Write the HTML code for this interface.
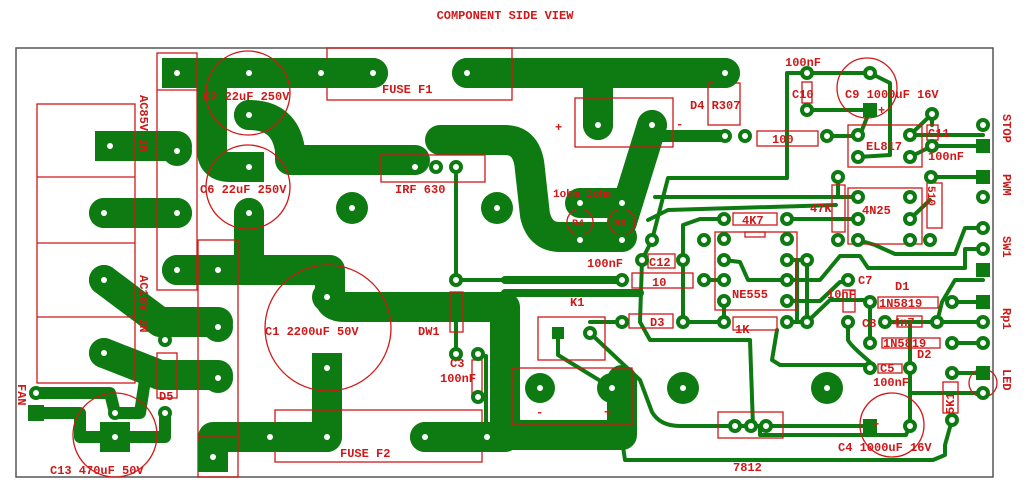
<!DOCTYPE html>
<html><head><meta charset="utf-8"><style>
html,body{margin:0;padding:0;background:#fff;}
svg{display:block}
text{font-family:"Liberation Mono","DejaVu Sans Mono",monospace;font-weight:bold;fill:#d01818}
</style></head><body>
<svg width="1025" height="485" viewBox="0 0 1025 485" xmlns="http://www.w3.org/2000/svg">
<rect width="1025" height="485" fill="#fff"/>
<text x="505" y="19" font-size="12" text-anchor="middle">COMPONENT SIDE VIEW</text>
<rect x="16" y="48" width="977" height="429" fill="none" stroke="#555" stroke-width="1.5"/>

<g fill="none" stroke="#0e7a12" stroke-linecap="round" stroke-linejoin="round" stroke-width="30">
<path d="M177 73 H373"/>
<path d="M467 73 H725"/>
<path d="M598 73 V125"/>
<path d="M652 125 L622 222"/>
<path d="M440 140 H505 Q528 140 530 170 L535 215 Q540 237 560 237 H622"/>
<path d="M212 75 V150 Q212 167 230 167 H249"/>
<path d="M249 115 Q285 115 290 150 V160 H415"/>
<path d="M249 213 V270 H330 V297 Q330 307 345 307 H505 V435 H622 V380"/>
<path d="M177 270 H250"/>
<path d="M104 280 L160 322 H218"/>
<path d="M104 353 L160 375 H218"/>
<path d="M110 146 H177"/>
<path d="M104 213 H177"/>
<path d="M213 455 V437 H327 V368"/>
<path d="M425 437 H505"/>
<path d="M580 203 H622"/>
</g>
<g fill="none" stroke="#0e7a12" stroke-linecap="round" stroke-linejoin="round" stroke-width="12">
<path d="M36 393 H110 L115 413 H140 L145 380"/>
<path d="M36 413 H80 V437 H165 V413"/>
<path d="M725 136 H652"/>
</g>
<g fill="none" stroke="#0e7a12" stroke-width="8" stroke-linecap="round">
<path d="M505 280 H622"/>
<path d="M505 293 H640"/>
</g>
<g fill="none" stroke="#0e7a12" stroke-width="4" stroke-linecap="round" stroke-linejoin="round">
<path d="M456 167 V280 H505"/>
<path d="M486 356 V440"/>
<path d="M456 312 V354"/>
<path d="M652 240 L668 178 H787 V73 H870"/>
<path d="M807 110 H870 M870 73 L890 83 V155 L858 157"/>
<path d="M870 110 L860 135 M827 136 H858"/>
<path d="M910 135 L932 114 M932 146 H983 M910 135 H983 M910 157 L932 146"/>
<path d="M655 197 L675 197 H858"/>
<path d="M838 177 V197"/>
<path d="M724 219 H700 L683 225 V322 M787 219 H858"/>
<path d="M642 260 L652 240 M642 260 L640 322 L650 340 H750 L753 426"/>
<path d="M683 260 V322 H724 M724 301 V322"/>
<path d="M724 260 L740 262 L748 280 H787 M704 280 H724"/>
<path d="M787 322 H807 V260 H787 M797 260 V322"/>
<path d="M787 280 H820 L840 256 H860 L868 268 H965 V249 H983"/>
<path d="M787 301 H820 L840 282 H848 M807 322 L830 300 H870"/>
<path d="M777 330 L772 360 L780 365 H870"/>
<path d="M848 322 V340 Q850 345 870 362 M870 302 V343"/>
<path d="M885 322 H937 L942 302 L955 280 H983"/>
<path d="M910 322 V425 L906 435 H760 V426"/>
<path d="M910 393 H983 M952 373 H983 M952 302 H983 M952 343 H983 M937 322 H983"/>
<path d="M952 420 L945 445 V455 L933 460 H625 L622 440"/>
<path d="M590 333 L640 380 L652 412 Q660 426 680 426 H870"/>
<path d="M558 333 V355 L612 388"/>
<path d="M590 322 H622 M858 240 L875 245 L895 254 H955 L965 228 H983"/>
<path d="M910 219 L930 200 M930 177 H983 M932 114 V125"/>
<path d="M648 220 L668 210 L836 205"/>
</g>

<g fill="none" stroke="#d01818" stroke-width="1.3">
<rect x="327" y="48" width="185" height="52"/>
<rect x="275" y="410" width="207" height="52"/>
<rect x="37" y="104" width="98" height="279"/>
<path d="M37 177 H135 M37 243 H135 M37 317 H135"/>
<rect x="157" y="53" width="40" height="237"/>
<path d="M157 90 H197"/>
<rect x="198" y="240" width="40" height="237"/>
<path d="M198 437 H238"/>
<rect x="157" y="353" width="20" height="45"/>
<circle cx="248" cy="93" r="42"/>
<circle cx="248" cy="187" r="42"/>
<circle cx="328" cy="328" r="63"/>
<circle cx="115" cy="435" r="42"/>
<rect x="381" y="155" width="104" height="27"/>
<rect x="450" y="292" width="13" height="40"/>
<rect x="472" y="360" width="10" height="35"/>
<rect x="575" y="98" width="98" height="49"/>
<rect x="708" y="83" width="32" height="42"/>
<rect x="757" y="131" width="61" height="15"/>
<rect x="802" y="82" width="10" height="21"/>
<circle cx="867" cy="88" r="30"/>
<rect x="848" y="125" width="74" height="42"/>
<rect x="927" y="125" width="11" height="15"/>
<rect x="848" y="188" width="74" height="56"/>
<rect x="832" y="185" width="13" height="47"/>
<rect x="927" y="183" width="15" height="45"/>
<rect x="715" y="232" width="82" height="78"/>
<rect x="745" y="232" width="20" height="5"/>
<rect x="733" y="213" width="44" height="12"/>
<rect x="733" y="317" width="44" height="13"/>
<rect x="648" y="254" width="27" height="14"/>
<rect x="632" y="273" width="61" height="15"/>
<rect x="629" y="314" width="44" height="14"/>
<rect x="538" y="317" width="67" height="43"/>
<rect x="512" y="368" width="120" height="57"/>
<rect x="718" y="412" width="65" height="26"/>
<circle cx="892" cy="425" r="32"/>
<rect x="878" y="364" width="24" height="9"/>
<rect x="943" y="382" width="15" height="31"/>
<circle cx="983" cy="383" r="14"/>
<rect x="878" y="297" width="60" height="11"/>
<rect x="882" y="338" width="58" height="10"/>
<rect x="897" y="316" width="25" height="11"/>
<rect x="843" y="290" width="12" height="22"/>
<circle cx="580" cy="222" r="13"/>
<circle cx="622" cy="222" r="13"/>
</g>

<g fill="#0e7a12">
<rect x="162" y="58" width="30" height="30"/>
<rect x="95" y="131" width="30" height="30"/>
<rect x="234" y="152" width="30" height="30"/>
<rect x="312" y="353" width="30" height="30"/>
<rect x="198" y="442" width="30" height="30"/>
<rect x="100" y="422" width="30" height="30"/>
<circle cx="249" cy="73" r="15"/><circle cx="321" cy="73" r="15"/><circle cx="373" cy="73" r="15"/>
<circle cx="467" cy="73" r="15"/><circle cx="725" cy="73" r="15"/>
<circle cx="249" cy="115" r="15"/><circle cx="249" cy="213" r="15"/>
<circle cx="177" cy="151" r="15"/><circle cx="104" cy="213" r="15"/><circle cx="177" cy="213" r="15"/>
<circle cx="104" cy="280" r="15"/><circle cx="104" cy="353" r="15"/>
<circle cx="177" cy="270" r="15"/><circle cx="218" cy="270" r="15"/>
<circle cx="218" cy="327" r="15"/><circle cx="218" cy="378" r="15"/>
<circle cx="327" cy="297" r="15"/><circle cx="270" cy="437" r="15"/><circle cx="327" cy="437" r="15"/>
<circle cx="425" cy="437" r="15"/><circle cx="487" cy="437" r="15"/>
<circle cx="598" cy="125" r="15"/><circle cx="652" cy="125" r="15"/>
<circle cx="540" cy="388" r="15"/><circle cx="612" cy="388" r="15"/>
<circle cx="352" cy="208" r="16"/><circle cx="497" cy="208" r="16"/>
<circle cx="683" cy="388" r="16"/><circle cx="827" cy="388" r="16"/>
<rect x="28" y="405" width="16" height="16"/>
<rect x="863" y="103" width="14" height="14"/>
<rect x="976" y="139" width="14" height="14"/><rect x="976" y="170" width="14" height="14"/>
<rect x="976" y="263" width="14" height="14"/><rect x="976" y="295" width="14" height="14"/>
<rect x="976" y="366" width="14" height="14"/><rect x="863" y="419" width="14" height="14"/>
<rect x="552" y="327" width="12" height="12"/>
</g>
<!-- small ring pads -->
<g fill="#fff" stroke="#0e7a12" stroke-width="4">
<circle cx="415" cy="167" r="5"/><circle cx="436" cy="167" r="5"/><circle cx="456" cy="167" r="5"/>
<circle cx="456" cy="280" r="5"/><circle cx="456" cy="354" r="5"/><circle cx="478" cy="354" r="5"/><circle cx="478" cy="397" r="5"/>
<circle cx="36" cy="393" r="5"/><circle cx="115" cy="413" r="5"/><circle cx="165" cy="413" r="5"/><circle cx="165" cy="340" r="5"/>
<circle cx="580" cy="203" r="5"/><circle cx="580" cy="240" r="5"/><circle cx="622" cy="203" r="5"/><circle cx="622" cy="240" r="5"/>
<circle cx="725" cy="136" r="5"/><circle cx="745" cy="136" r="5"/><circle cx="827" cy="136" r="5"/>
<circle cx="807" cy="73" r="5"/><circle cx="807" cy="110" r="5"/><circle cx="870" cy="73" r="5"/>
<circle cx="858" cy="135" r="5"/><circle cx="858" cy="157" r="5"/><circle cx="910" cy="135" r="5"/><circle cx="910" cy="157" r="5"/>
<circle cx="932" cy="114" r="5"/><circle cx="932" cy="146" r="5"/>
<circle cx="983" cy="125" r="5"/><circle cx="983" cy="197" r="5"/><circle cx="983" cy="228" r="5"/><circle cx="983" cy="249" r="5"/>
<circle cx="983" cy="322" r="5"/><circle cx="983" cy="343" r="5"/><circle cx="983" cy="393" r="5"/>
<circle cx="858" cy="197" r="5"/><circle cx="858" cy="219" r="5"/><circle cx="858" cy="240" r="5"/>
<circle cx="910" cy="197" r="5"/><circle cx="910" cy="219" r="5"/><circle cx="910" cy="240" r="5"/>
<circle cx="838" cy="240" r="5"/><circle cx="930" cy="240" r="5"/><circle cx="838" cy="177" r="5"/><circle cx="931" cy="177" r="5"/>
<circle cx="724" cy="239" r="5"/><circle cx="724" cy="260" r="5"/><circle cx="724" cy="280" r="5"/><circle cx="724" cy="301" r="5"/>
<circle cx="787" cy="239" r="5"/><circle cx="787" cy="260" r="5"/><circle cx="787" cy="280" r="5"/><circle cx="787" cy="301" r="5"/>
<circle cx="724" cy="219" r="5"/><circle cx="787" cy="219" r="5"/>
<circle cx="724" cy="322" r="5"/><circle cx="787" cy="322" r="5"/><circle cx="683" cy="322" r="5"/><circle cx="807" cy="322" r="5"/>
<circle cx="807" cy="260" r="5"/><circle cx="642" cy="260" r="5"/><circle cx="683" cy="260" r="5"/><circle cx="652" cy="240" r="5"/><circle cx="704" cy="240" r="5"/>
<circle cx="622" cy="280" r="5"/><circle cx="704" cy="280" r="5"/><circle cx="622" cy="322" r="5"/>
<circle cx="590" cy="333" r="5"/>
<circle cx="735" cy="426" r="5"/><circle cx="751" cy="426" r="5"/><circle cx="766" cy="426" r="5"/>
<circle cx="910" cy="426" r="5"/><circle cx="870" cy="368" r="5"/><circle cx="910" cy="368" r="5"/>
<circle cx="952" cy="420" r="5"/><circle cx="952" cy="373" r="5"/>
<circle cx="870" cy="302" r="5"/><circle cx="952" cy="302" r="5"/><circle cx="870" cy="343" r="5"/><circle cx="952" cy="343" r="5"/>
<circle cx="848" cy="322" r="5"/><circle cx="885" cy="322" r="5"/><circle cx="937" cy="322" r="5"/><circle cx="848" cy="280" r="5"/>
</g>
<g fill="#fff">
<circle cx="177" cy="73" r="3"/><circle cx="249" cy="73" r="3"/><circle cx="321" cy="73" r="3"/><circle cx="373" cy="73" r="3"/>
<circle cx="467" cy="73" r="3"/><circle cx="725" cy="73" r="3"/><circle cx="249" cy="115" r="3"/><circle cx="249" cy="167" r="3"/><circle cx="249" cy="213" r="3"/>
<circle cx="110" cy="146" r="3"/><circle cx="177" cy="151" r="3"/><circle cx="104" cy="213" r="3"/><circle cx="177" cy="213" r="3"/>
<circle cx="104" cy="280" r="3"/><circle cx="104" cy="353" r="3"/><circle cx="177" cy="270" r="3"/><circle cx="218" cy="270" r="3"/>
<circle cx="218" cy="327" r="3"/><circle cx="218" cy="378" r="3"/><circle cx="327" cy="297" r="3"/><circle cx="327" cy="368" r="3"/>
<circle cx="270" cy="437" r="3"/><circle cx="327" cy="437" r="3"/><circle cx="425" cy="437" r="3"/><circle cx="487" cy="437" r="3"/>
<circle cx="213" cy="457" r="3"/><circle cx="115" cy="437" r="3"/><circle cx="598" cy="125" r="3"/><circle cx="652" cy="125" r="3"/>
<circle cx="540" cy="388" r="3"/><circle cx="612" cy="388" r="3"/><circle cx="352" cy="208" r="3"/><circle cx="497" cy="208" r="3"/>
<circle cx="683" cy="388" r="3"/><circle cx="827" cy="388" r="3"/>
</g>

<g font-size="12">
<text x="382" y="93">FUSE F1</text>
<text x="340" y="457">FUSE F2</text>
<text x="203" y="100">C2 22uF 250V</text>
<text x="200" y="193">C6 22uF 250V</text>
<text x="395" y="193">IRF 630</text>
<text x="265" y="335">C1 2200uF 50V</text>
<text x="418" y="335">DW1</text>
<text x="450" y="367">C3</text>
<text x="440" y="382">100nF</text>
<text x="50" y="474">C13 470uF 50V</text>
<text x="159" y="400">D5</text>
<text x="690" y="109">D4 R307</text>
<text x="785" y="66">100nF</text>
<text x="792" y="98">C10</text>
<text x="845" y="98">C9 1000uF 16V</text>
<text x="772" y="143">100</text>
<text x="866" y="150">EL817</text>
<text x="928" y="137">C11</text>
<text x="928" y="160">100nF</text>
<text x="810" y="212">47K</text>
<text x="862" y="214">4N25</text>
<text x="742" y="224">4K7</text>
<text x="587" y="267">100nF</text>
<text x="649" y="266">C12</text>
<text x="652" y="286">10</text>
<text x="732" y="298">NE555</text>
<text x="650" y="326">D3</text>
<text x="735" y="333">1K</text>
<text x="570" y="306">K1</text>
<text x="827" y="298">10nF</text>
<text x="858" y="284">C7</text>
<text x="895" y="290">D1</text>
<text x="879" y="307">1N5819</text>
<text x="862" y="327">C8</text>
<text x="893" y="326">4n7</text>
<text x="883" y="347">1N5819</text>
<text x="917" y="358">D2</text>
<text x="880" y="372">C5</text>
<text x="873" y="386">100nF</text>
<text x="838" y="451">C4 1000uF 16V</text>
<text x="733" y="471">7812</text>
<text x="553" y="197" font-size="11">1ohm 1ohm</text>
<text x="572" y="226" font-size="10">R4</text>
<text x="614" y="226" font-size="10">R3</text>
<text x="555" y="131">+</text><text x="676" y="128">-</text>
<text x="536" y="416">-</text><text x="604" y="416">+</text>
<text x="872" y="428">+</text><text x="878" y="114">+</text>
</g>
<g font-size="12">
<text transform="translate(1003,114) rotate(90)">STOP</text>
<text transform="translate(1003,174) rotate(90)">PWM</text>
<text transform="translate(1003,236) rotate(90)">SW1</text>
<text transform="translate(1003,308) rotate(90)">Rp1</text>
<text transform="translate(1003,369) rotate(90)">LED</text>
<text transform="translate(944,384) rotate(-90) translate(-30,10)">5K1</text>
<text transform="translate(928,186) rotate(90)" font-size="11">510</text>
<text transform="translate(140,95) rotate(90)">AC85V-IN</text>
<text transform="translate(140,275) rotate(90)">AC18V-IN</text>
<text transform="translate(18,384) rotate(90)">FAN</text>
</g>
</svg>
</body></html>
